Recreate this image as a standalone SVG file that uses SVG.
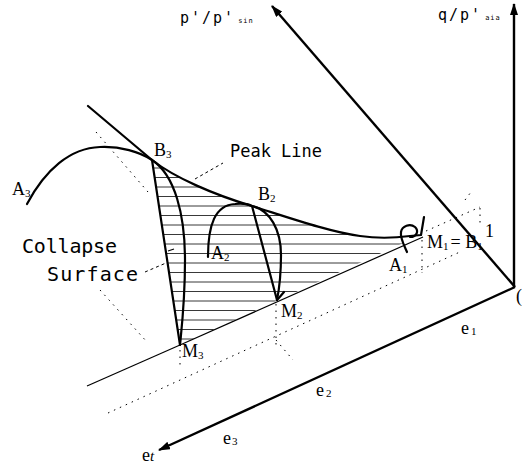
<svg xmlns="http://www.w3.org/2000/svg" width="530" height="469" viewBox="0 0 530 469">
<style>
.ax{fill:none;stroke:#000;stroke-width:2.4}
.thick{fill:none;stroke:#000;stroke-width:2.2;stroke-linecap:round;stroke-linejoin:round}
.thin{fill:none;stroke:#000;stroke-width:1.2}
.dot{fill:none;stroke:#000;stroke-width:1;stroke-dasharray:1.5 5}
.dash{fill:none;stroke:#000;stroke-width:1;stroke-dasharray:3 3}
.hatch{stroke:#222;stroke-width:0.9}
.lab{font-family:"Liberation Serif",serif;font-size:18px;fill:#000}
.sub{font-size:11px}
.mono{font-family:"DejaVu Sans Mono",monospace;fill:#000}
</style>
<defs>
<marker id="ah" viewBox="0 0 12 8" refX="11" refY="4" markerWidth="12" markerHeight="8" markerUnits="userSpaceOnUse" orient="auto">
<path d="M0,0 L12,4 L0,8 Z" fill="#000"/>
</marker>
<clipPath id="hclip">
<path d="M152,160 C175,178 215,195 252,206 C290,218 330,232 360,236 C380,239 395,238 410,236 L410,240 L180,345 Z"/>
</clipPath>
</defs>

<g id="connectors">
<!-- axes -->
<line class="ax" x1="514" y1="287" x2="514" y2="4" marker-end="url(#ah)"/>
<line class="ax" x1="515" y1="287" x2="272" y2="6" stroke-width="2" marker-end="url(#ah)"/>
<line class="ax" x1="515" y1="287" x2="159" y2="450" marker-end="url(#ah)"/>
<!-- dotted construction lines -->
<line class="dot" x1="108" y1="413" x2="462" y2="251"/>
<line class="dot" x1="426" y1="231" x2="480" y2="207"/>
<line class="dot" x1="480" y1="208" x2="480" y2="225"/>
<line class="dot" x1="422" y1="240" x2="422" y2="273"/>
<line class="dot" x1="276" y1="304" x2="276" y2="345"/>
<line class="dot" x1="180" y1="350" x2="180" y2="369"/>
<line class="dot" x1="276" y1="340" x2="293" y2="360"/>
<line class="dot" x1="96" y1="132" x2="148" y2="192"/>
<line class="dot" x1="100" y1="290" x2="147" y2="342"/>
<line class="dot" x1="465" y1="200" x2="471" y2="192"/>
<!-- leaders -->
<line class="dash" x1="195" y1="179" x2="223" y2="163"/>
<line class="dash" x1="145" y1="272" x2="166" y2="263"/>
<line class="thin" x1="168" y1="251" x2="174" y2="249"/>
</g>

<g id="collapse-surface">
<g clip-path="url(#hclip)">
<line class="hatch" x1="140" y1="168" x2="420" y2="168"/>
<line class="hatch" x1="140" y1="177.5" x2="420" y2="177.5"/>
<line class="hatch" x1="140" y1="187" x2="420" y2="187"/>
<line class="hatch" x1="140" y1="196.5" x2="420" y2="196.5"/>
<line class="hatch" x1="140" y1="206" x2="420" y2="206"/>
<line class="hatch" x1="140" y1="215.5" x2="420" y2="215.5"/>
<line class="hatch" x1="140" y1="225" x2="420" y2="225"/>
<line class="hatch" x1="140" y1="234.5" x2="420" y2="234.5"/>
<line class="hatch" x1="140" y1="244" x2="420" y2="244"/>
<line class="hatch" x1="140" y1="253.5" x2="420" y2="253.5"/>
<line class="hatch" x1="140" y1="263" x2="420" y2="263"/>
<line class="hatch" x1="140" y1="272.5" x2="420" y2="272.5"/>
<line class="hatch" x1="140" y1="282" x2="420" y2="282"/>
<line class="hatch" x1="140" y1="291.5" x2="420" y2="291.5"/>
<line class="hatch" x1="140" y1="301" x2="420" y2="301"/>
<line class="hatch" x1="140" y1="310.5" x2="420" y2="310.5"/>
<line class="hatch" x1="140" y1="320" x2="420" y2="320"/>
<line class="hatch" x1="140" y1="329.5" x2="420" y2="329.5"/>
<line class="hatch" x1="140" y1="339" x2="420" y2="339"/>
</g>
</g>

<g id="base-line">
<line class="thin" x1="87" y1="386" x2="180" y2="345" stroke-width="1"/>
<line class="thin" x1="180" y1="345" x2="423" y2="237" stroke-width="1.4"/>
</g>

<g id="peak-line">
<path class="thick" stroke-width="2.6" d="M88,106 L152,160 C175,178 215,195 252,206 C290,218 330,232 360,236 C380,239 395,238 410,236 L421,235 L424,217"/>
</g>

<g id="path-A3">
<path class="thick" d="M27,204 C45,170 70,148 100,147 C120,146 140,152 152,160"/>
</g>

<g id="path-B3-M3">
<path class="thick" d="M152,160 L180,345"/>
<path class="thick" d="M152,160 C175,175 185,215 185,260 C185,300 182,325 180,345"/>
</g>

<g id="path-A2-B2-M2">
<path class="thick" d="M208,257 C208,225 215,205 235,204 C245,203 250,205 252,206"/>
<path class="thick" d="M252,206 L277,300"/>
<path class="thick" d="M252,206 C270,210 281,230 281,255 C281,275 279,290 277,300"/>
<path class="thick" stroke-width="1.6" d="M284,292 L278,299"/>
</g>

<g id="path-A1">
<path class="thick" stroke-width="2" d="M407,252 C404,245 400,238 401,232 C402,226 410,223 415,227 C419,231 417,237 410,237"/>
</g>

<g id="labels">
<text class="mono" x="180" y="23" font-size="15" letter-spacing="2">p'/p'<tspan font-size="7" letter-spacing="1" dx="3">sin</tspan></text>
<text class="mono" x="438" y="20" font-size="15" letter-spacing="2">q/p'<tspan font-size="7" letter-spacing="1" dx="3">aia</tspan></text>
<text class="lab" x="12" y="195">A<tspan class="sub" dy="2">3</tspan></text>
<text class="lab" x="154" y="156" font-size="19">B<tspan class="sub" dy="2">3</tspan></text>
<text class="lab" x="258" y="200">B<tspan class="sub" dy="2">2</tspan></text>
<text class="lab" x="211" y="259">A<tspan class="sub" dy="2">2</tspan></text>
<text class="lab" x="281" y="317" font-size="17">M<tspan class="sub" dy="2">2</tspan></text>
<text class="lab" x="182" y="357" font-size="17">M<tspan class="sub" dy="2">3</tspan></text>
<text class="lab" x="389" y="271">A<tspan class="sub" dy="2">1</tspan></text>
<text class="lab" x="427" y="248" font-size="17">M<tspan class="sub" dy="2">1</tspan><tspan dy="-2" dx="2">= B</tspan><tspan class="sub" dy="2">1</tspan></text>
<text class="lab" x="485" y="237" font-size="16">1</text>
<text class="lab" x="516" y="302" font-size="16">(</text>
<text class="lab" x="461" y="334" font-size="24">e<tspan class="sub" font-size="13" dy="1" dx="2">1</tspan></text>
<text class="lab" x="316" y="396" font-size="24">e<tspan class="sub" font-size="13" dy="1" dx="2">2</tspan></text>
<text class="lab" x="223" y="444" font-size="24">e<tspan class="sub" font-size="13" dy="1" dx="1">3</tspan></text>
<text class="lab" x="142" y="461" font-size="28">e<tspan font-size="15" font-style="italic">t</tspan></text>
<text class="mono" x="230" y="157" font-size="17" textLength="92" lengthAdjust="spacing">Peak Line</text>
<text class="mono" x="22" y="253" font-size="20" textLength="95" lengthAdjust="spacing">Collapse</text>
<text class="mono" x="47" y="281" font-size="20" textLength="91" lengthAdjust="spacing">Surface</text>
</g>
</svg>
